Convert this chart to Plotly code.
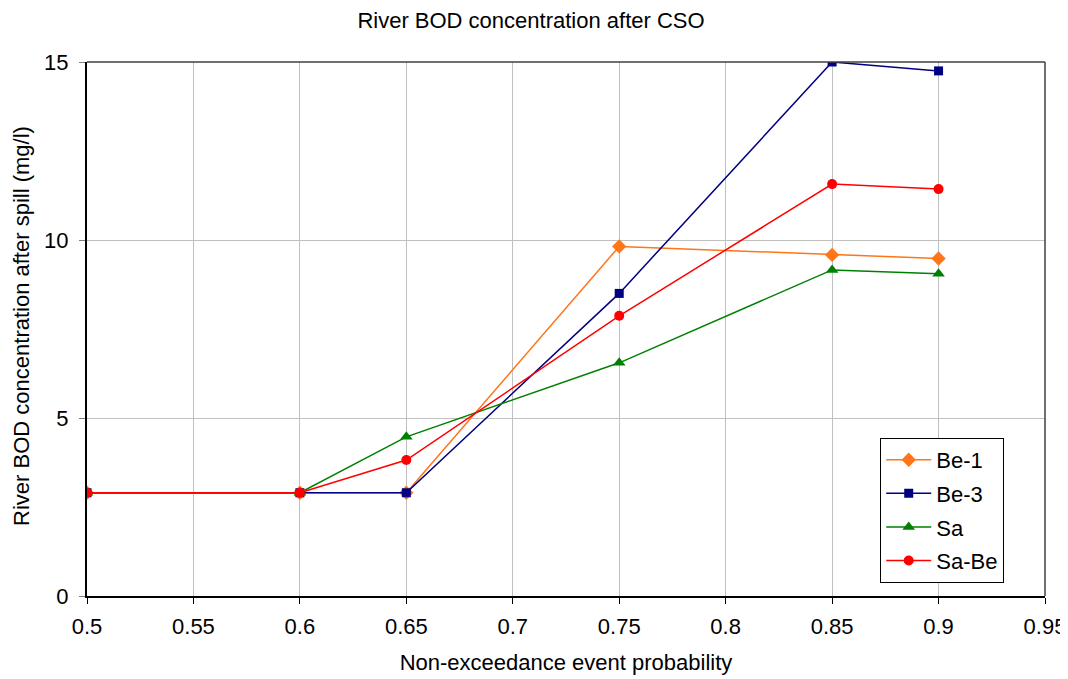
import plotly.graph_objects as go

# Non-exceedance event probability (x) and river BOD after spill (mg/l)
prob = [0.5, 0.6, 0.65, 0.75, 0.85, 0.9]
be1 = [2.9, 2.9, 2.9, 9.82, 9.58, 9.48]
be3 = [2.9, 2.9, 2.9, 8.5, 15.0, 14.75]
sa = [2.9, 2.9, 4.47, 6.55, 9.16, 9.05]
sa_be = [2.9, 2.9, 3.82, 7.87, 11.57, 11.43]

x_ticks = [0.5, 0.55, 0.6, 0.65, 0.7, 0.75, 0.8, 0.85, 0.9, 0.95]
y_ticks = [0, 5, 10, 15]

series = [
    ("Be-1", be1, "#FF7518", "diamond", 11),
    ("Be-3", be3, "#000080", "square", 9),
    ("Sa", sa, "#008000", "triangle-up", 11),
    ("Sa-Be", sa_be, "#FF0000", "circle", 10),
]

fig = go.Figure()
for name, vals, col, sym, sz in series:
    fig.add_trace(go.Scatter(
        x=prob, y=vals, mode="lines+markers", name=name, legendgroup=name,
        line=dict(color=col, width=1.5),
        marker=dict(symbol=sym, size=sz, color=col),
    ))

FONT = "Liberation Sans, Arial, sans-serif"
# page body has an 8px margin, so the figure is a bit smaller than the window
fig.update_layout(
    width=1060, height=671,
    font=dict(family=FONT, color="black", size=22),
    title=dict(text="River BOD concentration after CSO", x=0.4934, xanchor="center",
               y=0.982, yanchor="middle", font=dict(family=FONT, size=22)),
    plot_bgcolor="white", paper_bgcolor="white",
    margin=dict(l=79, r=23, t=54, b=83, autoexpand=False),
    showlegend=True,
    legend=dict(x=0.828, y=0.296, xanchor="left", yanchor="top",
                bordercolor="black", borderwidth=1, bgcolor="white",
                font=dict(family=FONT, size=22), tracegroupgap=2, itemwidth=45),
)
fig.update_xaxes(
    range=[0.5, 0.95], tickvals=x_ticks, ticktext=[str(v) for v in x_ticks],
    tickfont=dict(family=FONT, size=22),
    showgrid=True, gridcolor="#C0C0C0", gridwidth=1,
    showline=True, linecolor="black", linewidth=2, mirror=False,
    ticks="outside", ticklen=6, tickcolor="black", ticklabelstandoff=4,
    title=dict(text="Non-exceedance event probability", standoff=16,
               font=dict(family=FONT, size=22)),
    zeroline=False, automargin=False,
)
fig.update_yaxes(
    range=[0, 15], tickvals=y_ticks,
    tickfont=dict(family=FONT, size=22),
    showgrid=True, gridcolor="#C0C0C0", gridwidth=1,
    showline=True, linecolor="black", linewidth=2,
    ticks="outside", ticklen=6, tickcolor="#808080", ticklabelstandoff=6,
    zeroline=False, automargin=False,
)
# y title as annotation
fig.add_annotation(text="River BOD concentration after spill (mg/l)", textangle=-90,
                   xref="paper", yref="paper", x=-0.069, y=0.5056,
                   xanchor="center", yanchor="middle", showarrow=False,
                   font=dict(family=FONT, size=22))
# plot area frame (top and right) and outer chart edge
fig.add_shape(type="line", xref="paper", yref="paper", x0=0, x1=1, y0=1, y1=1,
              line=dict(color="#404040", width=1.5))
fig.add_shape(type="line", xref="paper", yref="paper", x0=1, x1=1, y0=0, y1=1,
              line=dict(color="#404040", width=1.5))
fig.add_shape(type="line", xref="paper", yref="paper", x0=1.0195, x1=1.0195, y0=-0.16, y1=1.1,
              line=dict(color="#A0A0A0", width=1.5))

fig.write_html("out.html")
